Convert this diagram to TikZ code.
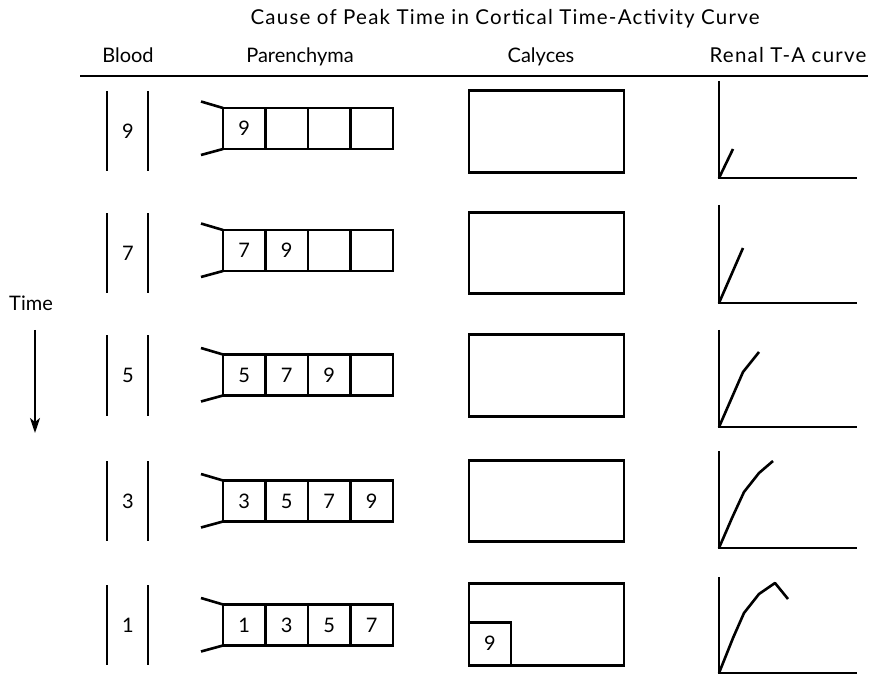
\documentclass[tikz,border=0pt]{standalone}
\usepackage{fontspec}
\setmainfont{Lato}
\usetikzlibrary{arrows.meta}
\begin{document}
\begin{tikzpicture}[x=1pt,y=-1pt,line width=2.6pt,
  lbl/.style={inner sep=0pt,font=\fontsize{20}{24}\selectfont,anchor=base},
  wide/.style={font=\fontsize{20.5}{24}\selectfont\addfontfeature{LetterSpace=6}},
  num/.style={inner sep=0pt,font=\fontsize{20}{24}\selectfont},
  cell/.style={draw,inner sep=0pt,outer sep=0pt,minimum width=42.5pt,minimum height=41pt,font=\fontsize{20}{24}\selectfont},
  calyx/.style={draw,inner sep=0pt,outer sep=0pt,minimum width=155pt,minimum height=81.5pt},
  bar/.style={line cap=butt},
  curve/.style={line join=round}]
\useasboundingbox (0,0) rectangle (889,676);

% title and column headers
\node[lbl,wide] (title) at (505,25) {Cause of Peak Time in Cortical Time-Activity Curve};
\node[lbl] (hblood) at (128,63) {Blood};
\node[lbl] (hpar) at (300,63) {Parenchyma};
\node[lbl] (hcal) at (541,63) {Calyces};
\node[lbl,wide] (hren) at (788,63) {Renal T-A curve};
\coordinate (ruleL) at (80,76);
\coordinate (ruleR) at (868,76);
\draw (ruleL) -- (ruleR);

% time axis
\node[lbl] (time) at (31,311) {Time};
\coordinate (tA) at (35,330);
\coordinate (tB) at (35,433);
\draw[line width=2pt,-{Stealth[length=15pt,width=10pt,inset=4pt]}] (tA) -- (tB);

% one row per time step: blood, parenchyma, calyces, axes
\foreach \r/\yb/\yp/\yc/\ya/\yt/\b/\pa/\pb/\pc/\pd in {
  1/131/128.5/131.5/178/81/9/9/{}/{}/{},
  2/253.5/250.5/253/303/205/7/7/9/{}/{},
  3/375.5/375/375.5/427/330/5/5/7/9/{},
  4/501/501/501/548/451/3/3/5/7/9,
  5/625/625/624.5/673/577/1/1/3/5/7}{
  % blood vessel
  \draw[bar] (107,\yb-40) -- (107,\yb+40);
  \draw[bar] (148,\yb-40) -- (148,\yb+40);
  \node[num] (b\r) at (128,\yb) {\b};
  % parenchyma cells
  \node[cell] (p\r-1) at (244.25,\yp) {\pa};
  \node[cell] (p\r-2) at (286.75,\yp) {\pb};
  \node[cell] (p\r-3) at (329.25,\yp) {\pc};
  \node[cell] (p\r-4) at (371.75,\yp) {\pd};
  \draw (p\r-1.north west) -- ++(-22,-6.5);
  \draw (p\r-1.south west) -- ++(-22,6);
  % calyces
  \node[calyx] (cal\r) at (546.5,\yc) {};
  % renal time-activity axes
  \coordinate (o\r) at (719,\ya);
  \coordinate (top\r) at (719,\yt);
  \coordinate (end\r) at (857,\ya);
  \draw (top\r) -- (o\r) -- (end\r);
}

% activity reaching the calyces in the last step
\node[cell,minimum width=42pt,minimum height=43pt,anchor=south west] (cal5s) at (cal5.south west) {9};

% renal time-activity curves
\draw[curve] (o1) -- ++(14,-29);
\draw[curve] (o2) -- ++(24,-55);
\draw[curve] (o3) -- ++(24,-55) -- ++(16,-20);
\draw[curve] (o4) -- ++(13,-30) -- ++(12,-26) -- ++(15,-19) -- ++(14,-12);
\draw[curve] (o5) -- ++(14,-35) -- ++(11,-25) -- ++(15,-19) -- ++(16,-11) -- ++(13,16);
\end{tikzpicture}
\end{document}
